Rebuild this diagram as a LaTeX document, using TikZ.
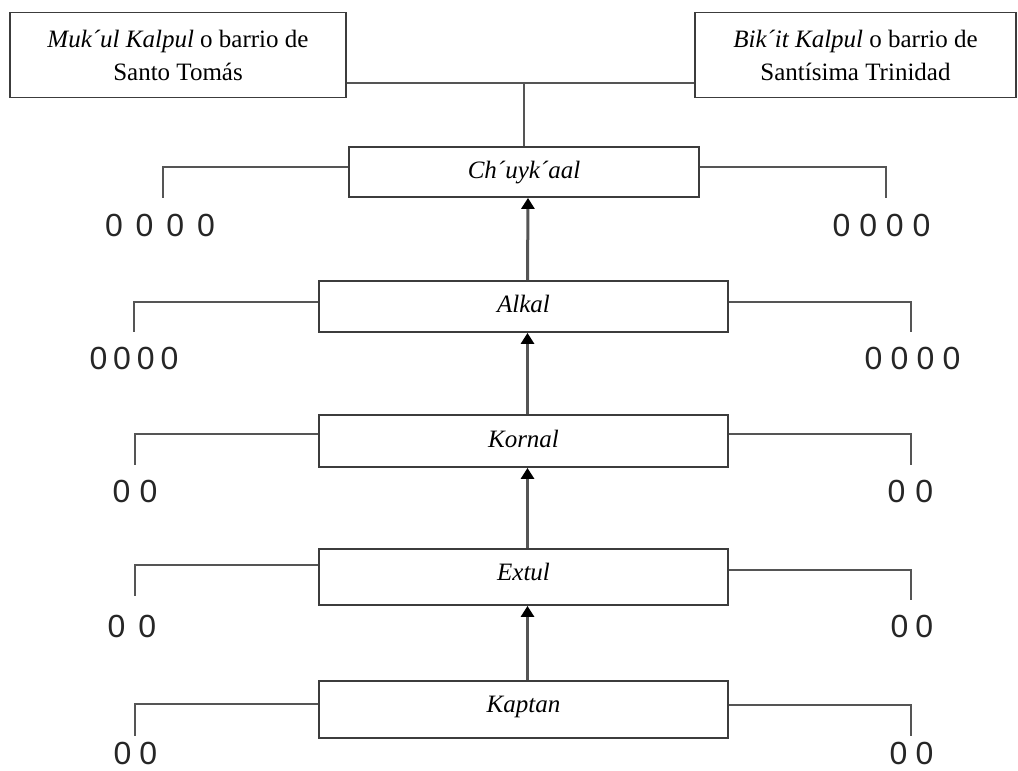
\documentclass[tikz,border=0pt]{standalone}
\usepackage{fontspec}
\setmainfont{Liberation Serif}
\newfontfamily\digitfont{Liberation Sans}
\usetikzlibrary{arrows.meta,calc}
\definecolor{boxline}{HTML}{3C3C3C}
\definecolor{conline}{HTML}{555555}
\newcommand\zg[1]{\hspace{#1pt}}
\begin{document}
\begin{tikzpicture}[x=1pt,y=-1pt,
  box/.style={draw=boxline,line width=1.8pt,fill=white,minimum width=409pt,inner sep=0pt,
    text height=17pt,text depth=5pt,font=\fontsize{25}{33}\selectfont\itshape},
  topbox/.style={draw=boxline,line width=1.8pt,align=center,inner sep=0pt,
    font=\fontsize{25}{33}\selectfont},
  con/.style={draw=conline,line width=1.6pt},
  arr/.style={draw=conline,line width=3pt,-{Triangle[length=11pt,width=13pt,color=black]}},
  zeros/.style={font=\digitfont\fontsize{32}{36}\selectfont,inner sep=0pt,text=black!85}]
\useasboundingbox (0,0) rectangle (1018,771);

% top boxes
\node[topbox,minimum width=336pt,minimum height=85pt] (tl) at (178,55)
  {\textit{Muk´ul Kalpul} o barrio de\\Santo Tomás};
\node[topbox,minimum width=321pt,minimum height=85pt] (tr) at (855.5,55)
  {\textit{Bik´it Kalpul} o barrio de\\Santísima Trinidad};

% hierarchy boxes
\node[box,minimum width=350pt,minimum height=50pt] (ch) at (524,172) {Ch´uyk´aal};
\node[box,minimum height=51pt] (al) at (523.5,306.5) {Alkal};
\node[box,minimum height=52pt] (ko) at (523.5,441) {Kornal};
\node[box,minimum height=56pt,text depth=11pt] (ex) at (523.5,577) {Extul};
\node[box,minimum height=57pt,text depth=11pt] (ka) at (523.5,709.5) {Kaptan};

% junction from the two barrios
\coordinate (j) at (524,83);
\draw[con] (j -| tl.east) -- (j -| tr.west);
\draw[con] (j) -- (ch.north);

% arrows
\draw[arr] ([xshift=4pt]ka.north) -- ([xshift=4pt]ex.south);
\draw[arr] ([xshift=4pt]ex.north) -- ([xshift=4pt]ko.south);
\draw[arr] ([xshift=4pt]ko.north) -- ([xshift=4pt]al.south);
\draw[arr] ([xshift=4pt]al.north) -- ([xshift=4pt]ch.south);

% side branches
\coordinate (chLe) at (163,198);
\coordinate (chRe) at (886,198);
\draw[con] ($(ch.west)+(0,-5)$) -| (chLe);
\draw[con] ($(ch.east)+(0,-5)$) -| (chRe);
\node[zeros] (chL) at (160,225) {0\zg{12.9}0\zg{12.9}0\zg{12.9}0};
\node[zeros] (chR) at (881.5,225) {0\zg{8.9}0\zg{8.9}0\zg{8.9}0};

\coordinate (alLe) at (134,332);
\coordinate (alRe) at (911,332);
\draw[con] ($(al.west)+(0,-4.5)$) -| (alLe);
\draw[con] ($(al.east)+(0,-4.5)$) -| (alRe);
\node[zeros] (alL) at (134,358.5) {0\zg{5.9}0\zg{5.9}0\zg{5.9}0};
\node[zeros] (alR) at (912.5,358.5) {0\zg{8.2}0\zg{8.2}0\zg{8.2}0};

\coordinate (koLe) at (135,465);
\coordinate (koRe) at (911,465);
\draw[con] ($(ko.west)+(0,-7)$) -| (koLe);
\draw[con] ($(ko.east)+(0,-7)$) -| (koRe);
\node[zeros] (koL) at (135,491.5) {0\zg{9.2}0};
\node[zeros] (koR) at (910.5,491.5) {0\zg{10}0};

\coordinate (exLe) at (135,596);
\coordinate (exRe) at (911,600);
\draw[con] ($(ex.west)+(0,-12)$) -| (exLe);
\draw[con] ($(ex.east)+(0,-7)$) -| (exRe);
\node[zeros] (exL) at (132,626) {0\zg{13}0};
\node[zeros] (exR) at (912,626) {0\zg{7}0};

\coordinate (kaLe) at (135,736);
\coordinate (kaRe) at (911,736);
\draw[con] ($(ka.west)+(0,-5.5)$) -| (kaLe);
\draw[con] ($(ka.east)+(0,-4.5)$) -| (kaRe);
\node[zeros] (kaL) at (135.5,753) {0\zg{8}0};
\node[zeros] (kaR) at (911.5,753) {0\zg{8}0};
\end{tikzpicture}
\end{document}
